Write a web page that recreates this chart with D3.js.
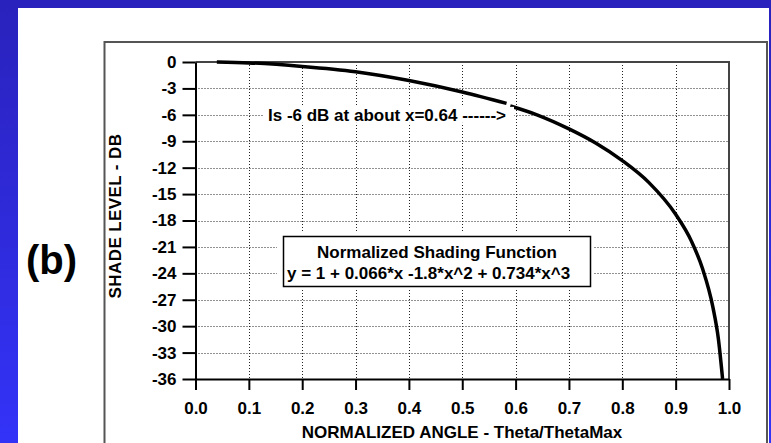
<!DOCTYPE html>
<html>
<head>
<meta charset="utf-8">
<script src="https://cdn.jsdelivr.net/npm/d3@7"></script>
<style>
  html, body { margin: 0; padding: 0; background: #2a24c0; }
  svg { display: block; }
  text { font-family: "Liberation Sans", Arial, sans-serif; font-weight: bold; fill: #000; }
</style>
</head>
<body>
<div id="chart"></div>
<script>
// tick values
var xTicks = [0.0, 0.1, 0.2, 0.3, 0.4, 0.5, 0.6, 0.7, 0.8, 0.9, 1.0];
var yTicks = [0, -3, -6, -9, -12, -15, -18, -21, -24, -27, -30, -33, -36];

// shade level (dB), split where the arrow note cuts it
var curveLeftX = [0.04, 0.1, 0.2, 0.3, 0.4, 0.5, 0.583];
var curveLeftY = [0, -0.1, -0.5, -1.1, -2.1, -3.4, -4.7];
var curveRightX = [0.59, 0.64, 0.7, 0.75, 0.8, 0.85, 0.9, 0.93, 0.95, 0.97, 0.98, 0.988];
var curveRightY = [-5.0, -6.0, -7.6, -9.2, -11.2, -13.7, -17.3, -20.4, -23.4, -27.9, -31.4, -36];

var noteText = "Is -6 dB at about x=0.64 ------>";
var boxTitle = "Normalized Shading Function";
var boxFormula = "y = 1 + 0.066*x -1.8*x^2 + 0.734*x^3";

var W = 771, H = 443;

var svg = d3.select('#chart').append('svg')
  .attr('width', W)
  .attr('height', H);

var defs = svg.append('defs');
var grad = defs.append('linearGradient')
  .attr('id', 'bg')
  .attr('x1', 0).attr('y1', 0).attr('x2', 0).attr('y2', 1);
grad.append('stop').attr('offset', '0%').attr('stop-color', '#2a22bc');
grad.append('stop').attr('offset', '100%').attr('stop-color', '#3333f8');

svg.append('rect').attr('width', W).attr('height', H).attr('fill', 'url(#bg)');
svg.append('rect')
  .attr('x', 18).attr('y', 8)
  .attr('width', 751).attr('height', H - 8)
  .attr('fill', '#fff');

// outer gray frame
svg.append('rect')
  .attr('x', 104.5).attr('y', 42)
  .attr('width', 662.5).attr('height', 420)
  .attr('fill', 'none')
  .attr('stroke', '#555')
  .attr('stroke-width', 2);

svg.append('text')
  .attr('x', 26).attr('y', 274)
  .style('font-size', '40px')
  .text('(b)');

var x = d3.scaleLinear().domain([0, 1]).range([195.5, 729]);
var y = d3.scaleLinear().domain([0, -36]).range([62, 379]);

// dotted grid
var grid = svg.append('g')
  .attr('stroke', '#222')
  .attr('stroke-width', 1)
  .attr('stroke-dasharray', '1,2');

grid.selectAll('line.v')
  .data(xTicks.slice(1, -1))
  .enter().append('line')
  .attr('x1', function(d) { return Math.round(x(d)) + 0.5; })
  .attr('x2', function(d) { return Math.round(x(d)) + 0.5; })
  .attr('y1', y(0)).attr('y2', y(-36));

grid.selectAll('line.h')
  .data(yTicks.slice(1, -1))
  .enter().append('line')
  .attr('y1', function(d) { return Math.round(y(d)) + 0.5; })
  .attr('y2', function(d) { return Math.round(y(d)) + 0.5; })
  .attr('x1', x(0)).attr('x2', x(1));

// top and right border of the plot
svg.append('path')
  .attr('d', 'M' + x(0) + ',' + y(0) + 'H' + x(1) + 'V' + y(-36))
  .attr('fill', 'none')
  .attr('stroke', '#444')
  .attr('stroke-width', 2);

// axes
var xAxis = d3.axisBottom(x)
  .tickValues(xTicks)
  .tickSize(11)
  .tickSizeOuter(0)
  .tickPadding(12)
  .tickFormat(d3.format('.1f'));

var yAxis = d3.axisLeft(y)
  .tickValues(yTicks)
  .tickSize(13)
  .tickSizeOuter(0)
  .tickPadding(6)
  .tickFormat(function(d) { return String(d); });

var gx = svg.append('g')
  .attr('transform', 'translate(0,' + y(-36) + ')')
  .call(xAxis);
var gy = svg.append('g')
  .attr('transform', 'translate(' + x(0) + ',0)')
  .call(yAxis);

[gx, gy].forEach(function(g) {
  g.select('.domain').attr('stroke', '#000').attr('stroke-width', 2);
  g.selectAll('.tick line').attr('stroke', '#000').attr('stroke-width', 2);
  g.selectAll('.tick text')
    .attr('fill', '#000')
    .style('font-family', '"Liberation Sans", Arial, sans-serif')
    .style('font-weight', 'bold')
    .style('font-size', '17px');
});

// axis titles
svg.append('text')
  .attr('x', 462).attr('y', 438)
  .attr('text-anchor', 'middle')
  .style('font-size', '17px')
  .text('NORMALIZED ANGLE - Theta/ThetaMax');

svg.append('text')
  .attr('transform', 'translate(121,216) rotate(-90)')
  .attr('text-anchor', 'middle')
  .style('font-size', '17px')
  .style('letter-spacing', '0.4px')
  .text('SHADE LEVEL - DB');

// curve
var line = d3.line()
  .x(function(d) { return x(d[0]); })
  .y(function(d) { return y(d[1]); })
  .curve(d3.curveMonotoneX);

var segments = [
  d3.zip(curveLeftX, curveLeftY),
  d3.zip(curveRightX, curveRightY)
];

svg.selectAll('path.curve')
  .data(segments)
  .enter().append('path')
  .attr('class', 'curve')
  .attr('d', line)
  .attr('fill', 'none')
  .attr('stroke', '#000')
  .attr('stroke-width', 3.5);

// arrow note
svg.append('rect')
  .attr('x', 263).attr('y', y(-6) - 8)
  .attr('width', 251).attr('height', 16)
  .attr('fill', '#fff');
svg.append('text')
  .attr('x', 268).attr('y', y(-6) + 6)
  .style('font-size', '17px')
  .text(noteText);

// formula box
svg.append('rect')
  .attr('x', 277).attr('y', 232)
  .attr('width', 317).attr('height', 58)
  .attr('fill', '#fff');
svg.append('rect')
  .attr('x', 283.5).attr('y', 236.5)
  .attr('width', 307).attr('height', 50)
  .attr('fill', '#fff')
  .attr('stroke', '#000')
  .attr('stroke-width', 1.5);
svg.append('text')
  .attr('x', 437).attr('y', 258)
  .attr('text-anchor', 'middle')
  .style('font-size', '17px')
  .text(boxTitle);
svg.append('text')
  .attr('x', 287).attr('y', 279)
  .style('font-size', '17px')
  .text(boxFormula);
</script>
</body>
</html>
